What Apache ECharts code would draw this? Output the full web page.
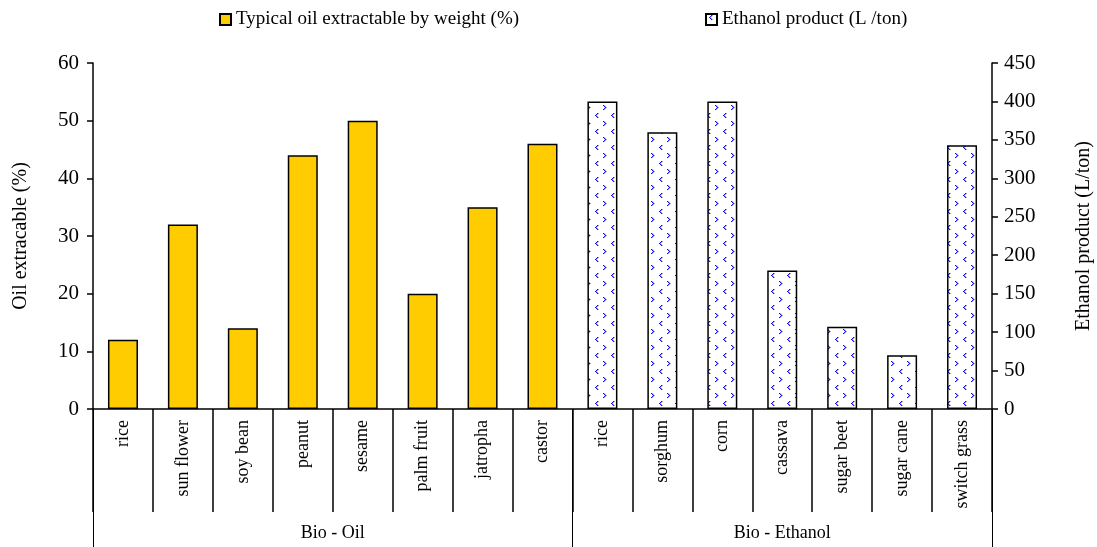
<!DOCTYPE html>
<html>
<head>
<meta charset="utf-8">
<script src="https://cdn.jsdelivr.net/npm/echarts@6/dist/echarts.min.js"></script>
<style>html,body{margin:0;padding:0;background:#fff}#c{width:1097px;height:547px}</style>
</head>
<body>
<div id="c"></div>
<script>
const categories = ['rice','sun flower','soy bean','peanut','sesame','palm fruit','jatropha','castor','rice','sorghum','corn','cassava','sugar beet','sugar cane','switch grass'];
const oilValues = [12, 32, 14, 44, 50, 20, 35, 46];
const ethanolValues = [400, 360, 400, 180, 107, 70, 343];
const groups = ['Bio - Oil', 'Bio - Ethanol'];
const groupSizes = [8, 7];
const leftTicks = [0, 60, 10];
const rightTicks = [0, 450, 50];
const oilName = 'Typical oil extractable by weight (%)';
const ethName = 'Ethanol product (L /ton)';

const FONT = '"Liberation Serif", "Times New Roman", serif';

// pattern tile for ethanol bars
function makePattern() {
  const c = document.createElement('canvas');
  c.width = 16; c.height = 16;
  const g = c.getContext('2d');
  g.fillStyle = '#ffffff'; g.fillRect(0, 0, 16, 16);
  function chev(x, y, right) {
    const pts = right ? [[0,0],[1,1],[2,2],[1,3],[0,4]] : [[2,0],[1,1],[0,2],[1,3],[2,4]];
    g.fillStyle = '#1515d8';
    pts.forEach(p => g.fillRect((x + p[0]) % 16, (y + p[1]) % 16, 1, 1));
    g.fillStyle = 'rgba(40,40,230,0.45)';
    pts.forEach(p => g.fillRect((x + p[0] + 1) % 16, (y + p[1]) % 16, 1, 1));
  }
  chev(3, 1, false); chev(11, 9, true);
  return c;
}
const pattern = { image: makePattern(), repeat: 'repeat' };

const nOil = groupSizes[0];
const oilData = categories.map((_, i) => i < nOil ? oilValues[i] : null);
const ethData = categories.map((_, i) => i >= nOil ? ethanolValues[i - nOil] : null);

// group axis: half-slot positions with boundaryGap false
const total = groupSizes.reduce((a, b) => a + b, 0);
const groupAxisData = [];
for (let i = 0; i <= total * 2; i++) groupAxisData.push('');
const groupBounds = [0];
let acc = 0;
groupSizes.forEach((s, gi) => {
  groupAxisData[acc * 2 + s] = groups[gi];
  acc += s;
  groupBounds.push(acc * 2);
});

const chart = echarts.init(document.getElementById('c'));
chart.setOption({
  animation: false,
  textStyle: { fontFamily: FONT, color: '#000' },
  grid: { left: 93, right: 105, top: 63, bottom: 138, containLabel: false, outerBoundsMode: 'none' },
  legend: [
    { left: 214, top: 5, itemWidth: 11, itemHeight: 11, itemGap: 4, icon: 'rect',
      textStyle: { fontFamily: FONT, fontSize: 19, color: '#000' }, data: [oilName] },
    { left: 700, top: 5, itemWidth: 11, itemHeight: 11, itemGap: 4, icon: 'rect',
      textStyle: { fontFamily: FONT, fontSize: 19, color: '#000' }, data: [ethName] }
  ],
  xAxis: [
    {
      type: 'category', data: categories, position: 'bottom',
      axisLine: { show: true, lineStyle: { color: '#000', width: 1.5 } },
      axisTick: { show: true, interval: 0, length: 103, lineStyle: { color: '#000', width: 1.5 } },
      axisLabel: { interval: 0, rotate: 90, margin: 11, fontFamily: FONT, fontSize: 18, color: '#000' }
    },
    {
      type: 'category', data: groupAxisData, position: 'bottom', boundaryGap: false,
      axisLine: { show: false },
      axisTick: { show: true, length: 138, interval: (i) => groupBounds.indexOf(i) >= 0,
        lineStyle: { color: '#000', width: 1 } },
      axisLabel: { interval: 0, margin: 115, fontFamily: FONT, fontSize: 18, color: '#000' }
    }
  ],
  yAxis: [
    {
      type: 'value', min: leftTicks[0], max: leftTicks[1], interval: leftTicks[2], position: 'left',
      name: 'Oil extracable (%)', nameLocation: 'middle', nameGap: 62, nameRotate: 90,
      nameTextStyle: { fontFamily: FONT, fontSize: 20, color: '#000' },
      axisLine: { show: true, lineStyle: { color: '#000', width: 1.5 } },
      axisTick: { show: true, length: 6, lineStyle: { color: '#000', width: 1.5 } },
      axisLabel: { margin: 14, fontFamily: FONT, fontSize: 21, color: '#000' },
      splitLine: { show: false }
    },
    {
      type: 'value', min: rightTicks[0], max: rightTicks[1], interval: rightTicks[2], position: 'right',
      name: 'Ethanol product (L/ton)', nameLocation: 'middle', nameGap: 82, nameRotate: 90,
      nameTextStyle: { fontFamily: FONT, fontSize: 20, color: '#000' },
      axisLine: { show: true, lineStyle: { color: '#000', width: 1.5 } },
      axisTick: { show: true, length: 6, lineStyle: { color: '#000', width: 1.5 } },
      axisLabel: { margin: 12, fontFamily: FONT, fontSize: 21, color: '#000' },
      splitLine: { show: false }
    }
  ],
  series: [
    {
      name: oilName, type: 'bar', xAxisIndex: 0, yAxisIndex: 0, data: oilData,
      barWidth: 30, barGap: '-100%',
      itemStyle: { color: '#FFCC00', borderColor: '#000', borderWidth: 1.5 }
    },
    {
      name: ethName, type: 'bar', xAxisIndex: 0, yAxisIndex: 1, data: ethData,
      barWidth: 30, barGap: '-100%',
      itemStyle: { color: pattern, borderColor: '#000', borderWidth: 1.5 }
    }
  ]
});
</script>
</body>
</html>
